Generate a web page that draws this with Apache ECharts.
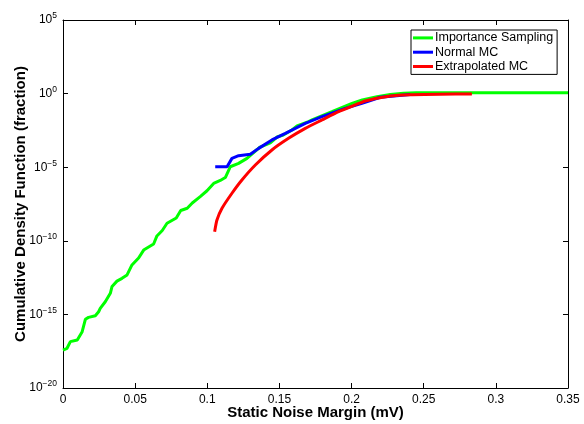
<!DOCTYPE html>
<html><head><meta charset="utf-8">
<script src="https://cdn.jsdelivr.net/npm/echarts@6/dist/echarts.min.js"></script>
<style>html,body{margin:0;padding:0;background:#fff}#c{width:584px;height:424px}</style>
</head><body><div id="c"></div>
<script>
// x values (mV) and log10 of CDF
const isX = [0,0.0028,0.0051,0.0099,0.0132,0.0155,0.0177,0.0224,0.0247,0.0258,0.0293,0.0328,0.034,0.0374,0.0409,0.0444,0.0478,0.0524,0.0559,0.0628,0.0651,0.0688,0.0721,0.0785,0.0816,0.0861,0.0896,0.0951,0.0998,0.1044,0.109,0.1125,0.1159,0.1217,0.1275,0.1333,0.1367,0.1437,0.1483,0.1527,0.1587,0.1622,0.1702,0.1726,0.1864,0.2003,0.2074,0.2176,0.2268,0.236,0.2448,0.35];
const isLog = [-17.42,-17.3,-16.85,-16.74,-16.2,-15.33,-15.2,-15.09,-14.82,-14.59,-14.14,-13.57,-13.1,-12.74,-12.55,-12.32,-11.64,-11.17,-10.63,-10.22,-9.67,-9.3,-8.81,-8.45,-7.94,-7.79,-7.43,-7.0,-6.6,-6.1,-5.9,-5.7,-4.97,-4.74,-4.4,-3.9,-3.63,-3.35,-2.95,-2.81,-2.47,-2.2,-1.9,-1.79,-1.23,-0.66,-0.43,-0.21,-0.06,0.02,0.06,0.06];
const mcX = [0.1055,0.1137,0.1171,0.1217,0.1298,0.1356,0.1448,0.1541,0.1679,0.1795,0.1956,0.2072,0.2199,0.2407];
const mcLog = [-4.97,-4.97,-4.4,-4.22,-4.12,-3.72,-3.15,-2.7,-2.02,-1.57,-1.0,-0.66,-0.25,-0.06];
const exX = [0.1051,0.1067,0.1102,0.1171,0.124,0.1333,0.1448,0.1563,0.1679,0.1795,0.191,0.2026,0.2095,0.2268,0.2407,0.2615,0.2834];
const exLog = [-9.38,-8.59,-7.79,-6.77,-5.87,-4.85,-3.83,-3.04,-2.36,-1.79,-1.23,-0.77,-0.5,-0.16,-0.07,-0.04,-0.03];
const names = ['Importance Sampling','Normal MC','Extrapolated MC'];
const colors = ['#00ff00','#0000ff','#ff0000'];

const font = "'Liberation Sans', Arial, Helvetica, sans-serif";
const zip = (a,b)=>a.map((v,i)=>[v,b[i]]);
const chart = echarts.init(document.getElementById('c'), null, {renderer:'canvas'});
const axisLine = {show:true, onZero:false, lineStyle:{color:'#000', width:1}};
const tick = {show:true, inside:true, length:5, lineStyle:{color:'#000'}};
const supFmt = v => '{b|10}{s|' + (v < 0 ? '\u2212' + (-v) : v) + '}';
chart.setOption({
  animation:false,
  grid:{left:63, right:16, top:20, bottom:36, containLabel:false, outerBoundsMode:'none'},
  legend:{
    data:names, orient:'vertical', left:411, top:30,
    backgroundColor:'#fff', borderColor:'#000', borderWidth:1,
    padding:[1,4,1,2], itemGap:0.5, itemWidth:20, itemHeight:3, icon:'rect',
    textStyle:{fontFamily:font, fontSize:12.5, color:'#000', lineHeight:13.8, padding:[0,0,0,-3]}
  },
  xAxis:[{
    type:'value', min:0, max:0.35, interval:0.05, position:'bottom',
    axisLine, axisTick:tick, splitLine:{show:false},
    axisLabel:{fontFamily:font, fontSize:12, color:'#000', margin:6,
      formatter:v=>String(+v.toFixed(2))},
    name:'Static Noise Margin (mV)', nameLocation:'middle', nameGap:17, nameMoveOverlap:false,
    nameTextStyle:{fontFamily:font, fontSize:15, fontWeight:'bold', color:'#000'}
  },{
    type:'value', min:0, max:0.35, interval:0.05, position:'top',
    axisLine, axisTick:tick, axisLabel:{show:false}, splitLine:{show:false}
  }],
  yAxis:[{
    type:'value', min:-20, max:5, interval:5, position:'left',
    axisLine, axisTick:tick, splitLine:{show:false},
    axisLabel:{formatter:supFmt, margin:6,
      rich:{b:{fontFamily:font, fontSize:12, color:'#000'},
            s:{fontFamily:font, fontSize:8.5, color:'#000', verticalAlign:'top', padding:[0,0,8,0]}}},
    name:'Cumulative Density Function (fraction)', nameLocation:'middle', nameGap:35, nameMoveOverlap:false,
    nameTextStyle:{fontFamily:font, fontSize:15, fontWeight:'bold', color:'#000'}
  },{
    type:'value', min:-20, max:5, interval:5, position:'right',
    axisLine, axisTick:tick, axisLabel:{show:false}, splitLine:{show:false}
  }],
  series:[
    {name:names[0], type:'line', data:zip(isX,isLog), showSymbol:false, color:colors[0], lineStyle:{width:3, color:colors[0]}},
    {name:names[1], type:'line', data:zip(mcX,mcLog), showSymbol:false, color:colors[1], lineStyle:{width:3, color:colors[1]}},
    {name:names[2], type:'line', data:zip(exX,exLog), showSymbol:false, smooth:0.2, color:colors[2], lineStyle:{width:3, color:colors[2]}}
  ]
});
</script></body></html>
